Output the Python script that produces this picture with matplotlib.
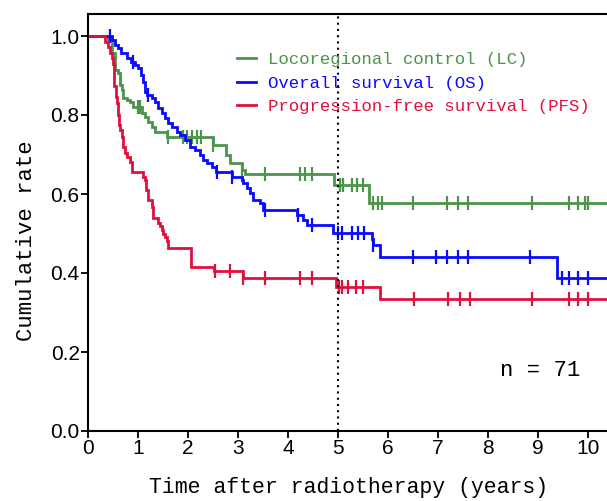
import numpy as np
import matplotlib
matplotlib.use("Agg")
import matplotlib.pyplot as plt

# ---------------- data ----------------
lc_t = [0.40, 0.48, 0.54, 0.60, 0.64, 0.68, 0.70, 0.78, 0.84, 0.90, 1.08, 1.14,
        1.20, 1.28, 1.34, 1.58, 2.50, 2.76, 2.84, 3.08, 3.14, 4.92, 5.62]
lc_s = [0.99, 0.957, 0.914, 0.906, 0.876, 0.863, 0.843, 0.838, 0.833, 0.82, 0.805, 0.795,
        0.782, 0.77, 0.757, 0.744, 0.724, 0.70, 0.678, 0.661, 0.651, 0.623, 0.577]
lc_cens = [1.00, 1.04, 1.60, 1.90, 1.98, 2.08, 2.18, 2.26, 2.50, 3.08, 3.54, 4.24, 4.34,
           4.48, 5.04, 5.10, 5.28, 5.38, 5.50, 5.70, 5.80, 5.88, 6.50, 7.18, 7.40,
           7.60, 8.88, 9.62, 9.80, 9.94, 10.0]

os_t = [0.48, 0.54, 0.60, 0.66, 0.78, 0.86, 0.94, 1.00, 1.06, 1.10, 1.14, 1.18, 1.28,
        1.34, 1.40, 1.48, 1.54, 1.60, 1.68, 1.78, 1.84, 1.94, 2.04, 2.14, 2.24, 2.30,
        2.38, 2.48, 2.56, 2.88, 3.08, 3.10, 3.18, 3.24, 3.30, 3.44, 3.50, 4.18, 4.30,
        4.38, 4.90, 5.68, 5.70, 5.84, 9.38]
os_s = [0.99, 0.977, 0.97, 0.957, 0.944, 0.934, 0.927, 0.919, 0.901, 0.884, 0.858, 0.851,
        0.843, 0.833, 0.818, 0.805, 0.792, 0.78, 0.77, 0.757, 0.749, 0.737, 0.72, 0.711,
        0.699, 0.686, 0.678, 0.668, 0.656, 0.643, 0.635, 0.628, 0.615, 0.603, 0.585,
        0.577, 0.56, 0.546, 0.534, 0.522, 0.501, 0.485, 0.471, 0.44, 0.387]
os_cens = [0.44, 0.90, 1.20, 2.58, 2.88, 3.54, 4.20, 4.48, 5.00, 5.08, 5.28, 5.40, 5.52,
           5.70, 6.50, 6.96, 7.18, 7.40, 7.60, 8.84, 9.48, 9.62, 9.80, 10.0]

pfs_t = [0.34, 0.40, 0.44, 0.48, 0.50, 0.52, 0.56, 0.58, 0.60, 0.62, 0.64, 0.68, 0.70,
         0.74, 0.78, 0.84, 0.88, 1.10, 1.14, 1.16, 1.20, 1.28, 1.30, 1.40, 1.44, 1.48,
         1.50, 1.54, 1.58, 1.60, 2.06, 2.52, 3.10, 4.96, 5.84]
pfs_s = [0.986, 0.972, 0.958, 0.944, 0.930, 0.873, 0.845, 0.830, 0.80, 0.775, 0.762,
         0.744, 0.719, 0.704, 0.694, 0.681, 0.656, 0.643, 0.635, 0.61, 0.585, 0.567,
         0.540, 0.527, 0.52, 0.51, 0.50, 0.49, 0.48, 0.463, 0.415, 0.405, 0.387, 0.365,
         0.335]
pfs_cens = [2.54, 2.84, 3.10, 3.54, 4.24, 4.48, 5.02, 5.08, 5.20, 5.36, 5.50, 6.52, 7.20,
            7.44, 7.64, 8.88, 9.62, 9.80, 10.0]

labels = ["Locoregional control (LC)", "Overall survival (OS)",
          "Progression-free survival (PFS)"]
colors = ["#4b944b", "#0a0aff", "#e0103c"]

x_ticks = list(range(0, 11))
y_ticks = [0.0, 0.2, 0.4, 0.6, 0.8, 1.0]
y_ticklabels = ["0.0", "0.2", "0.4", "0.6", "0.8", "1.0"]

# ---------------- plotting ----------------
W, H = 607, 501
fig = plt.figure(figsize=(W / 100, H / 100), dpi=100)
ax = fig.add_axes([88 / W, (H - 431) / H, (W - 88) / W, (431 - 14) / H])
XMAX = 10.38
YMAX = (431 - 14) / 395

mono = "Liberation Mono"

def surv_at(ts, ss, t):
    ts = np.asarray(ts)
    ss = np.asarray(ss)
    i = np.searchsorted(ts, t, side="right") - 1
    return np.where(i < 0, 1.0, ss[np.clip(i, 0, None)])

series = [(lc_t, lc_s, lc_cens), (os_t, os_s, os_cens), (pfs_t, pfs_s, pfs_cens)]
for (ts, ss, cs), lab, col in zip(series, labels, colors):
    xs = np.r_[0.0, ts, XMAX]
    ys = np.r_[1.0, ss, ss[-1]]
    ax.step(xs, ys, where="post", color=col, lw=2.0, label=lab, solid_joinstyle="miter")
    cy = surv_at(ts, ss, np.asarray(cs))
    ax.plot(cs, cy, ls="none", marker="|", ms=10, mew=1.6, color=col)

ax.axvline(5, color="black", ls=(0, (1, 2)), lw=1.5)

ax.set_xlim(0, XMAX)
ax.set_ylim(0, YMAX)
ax.set_xticks(x_ticks)
ax.set_yticks(y_ticks)
ax.set_yticklabels(y_ticklabels)
ax.tick_params(axis="both", direction="out", length=5, width=1.3, labelsize=15, pad=1)
for lab in ax.get_xticklabels() + ax.get_yticklabels():
    lab.set_fontfamily("Liberation Sans")

for s in ["left", "bottom", "top"]:
    ax.spines[s].set_linewidth(1.5)
ax.spines["right"].set_visible(False)

ax.set_xlabel("Time after radiotherapy (years)", fontsize=15.5, family=mono)
ax.set_ylabel("Cumulative rate", fontsize=16, family=mono)
ax.xaxis.set_label_coords((349 - 88) / 519, (431 - 477) / 417)
ax.yaxis.set_label_coords((37 - 88) / 519, (431 - 241) / 417)

leg = ax.legend(loc="upper left", bbox_to_anchor=((237 - 88) / 519, (431 - 52) / 417),
                frameon=False, handlelength=1.1, handletextpad=0.7,
                labelspacing=0.48, borderpad=0, borderaxespad=0,
                prop={"family": mono, "size": 12.5}, labelcolor="linecolor")

ax.text(9.04, 0.154, "n = 71", fontsize=16, family=mono, ha="center", va="center")

fig.savefig("out.png", dpi=100)
